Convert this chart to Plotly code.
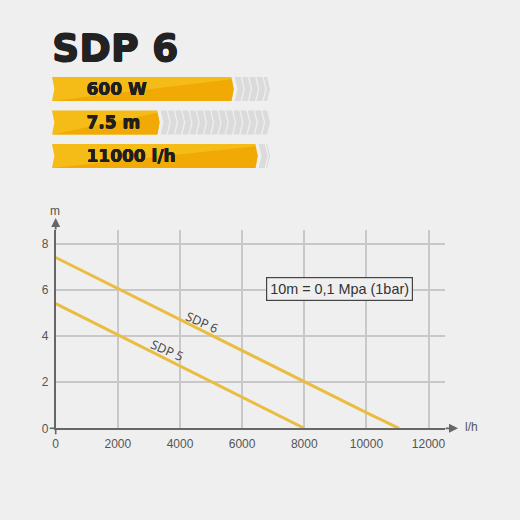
import plotly.graph_objects as go

# ---------- data ----------
title_text = "SDP 6"
spec_labels = ["600 W", "7.5 m", "11000 l/h"]
spec_filled = [25.0, 14.8, 28.3]
spec_capacity = 30

flow_sdp6 = [0, 2000, 4000, 6000, 8000, 10000, 11050]
head_sdp6 = [7.4, 6.05, 4.7, 3.35, 2.0, 0.68, 0]
flow_sdp5 = [0, 2000, 4000, 6000, 8000]
head_sdp5 = [5.4, 4.05, 2.7, 1.35, 0]
x_ticks = [0, 2000, 4000, 6000, 8000, 10000, 12000]
y_ticks = [0, 2, 4, 6, 8]

# ---------- style / layout ----------
W = H = 520
BG = "#efefef"
TXT = "#555555"
AXIS = "#666666"
X0, X1, Y0, Y1 = 55.7, 445.0, 428.3, 230.0
PX_X, PX_Y = 31.07 / 1000, 23.08
BAR_L, BAR_R, ROW_TOP, ROW_BOT = 52.0, 270.0, 72.25, 172.75
half = 0.36
notch = 0.33
tip = 0.3
chev_tip = 0.4
label_drop = 0.05
FONT_HEAVY = "DejaVu Sans"
FONT_AXIS = "Liberation Sans"


def thick(px, color):
    return ", ".join(f"{a}px {b}px 0 {color}" for a, b in ((px, 0), (-px, 0), (0, px), (0, -px)))


fig = go.Figure()

for row, end in enumerate(spec_filled):
    # base (light yellow)
    xs = [0, end - tip, end, end - tip, 0, notch, 0]
    ys = [row - half, row - half, row, row + half, row + half, row, row - half]
    fig.add_trace(go.Scatter(x=xs, y=ys, xaxis="x2", yaxis="y2", mode="lines", fill="toself",
                             fillcolor="#f5bc18", line=dict(width=0), hoverinfo="skip", showlegend=False))
    # darker lower wedge
    xs = [notch * 0.2, end - tip, end, end - tip, notch * 0.2]
    ys = [row + half, row - half + 0.07, row, row + half, row + half]
    fig.add_trace(go.Scatter(x=xs, y=ys, xaxis="x2", yaxis="y2", mode="lines", fill="toself",
                             fillcolor="#f0a905", line=dict(width=0), hoverinfo="skip", showlegend=False))
    # remaining grey chevrons
    cx, cy = [], []
    start = end + 0.14
    while start < spec_capacity - 0.4:
        w = min(0.82, spec_capacity - chev_tip - start)
        cx += [start, start + w, start + w + chev_tip, start + w, start, start + chev_tip, start, None]
        cy += [row - half, row - half, row, row + half, row + half, row, row - half, None]
        start += 1.0
    fig.add_trace(go.Scatter(x=cx, y=cy, xaxis="x2", yaxis="y2", mode="lines", fill="toself",
                             fillcolor="#dbdbdb", line=dict(width=0), hoverinfo="skip", showlegend=False))

# labels in the bars
fig.add_trace(go.Scatter(x=[4.75] * len(spec_labels),
                         y=[i + label_drop for i in range(len(spec_labels))],
                         xaxis="x2", yaxis="y2", mode="text", text=[f"<b>{s}</b>" for s in spec_labels],
                         textposition="middle right",
                         textfont=dict(family=FONT_HEAVY, size=17, color="#1f1f1f",
                                       shadow=thick(0.25, "#1f1f1f")),
                         hoverinfo="skip", showlegend=False))

# curves
for xs, ys in ((flow_sdp6, head_sdp6), (flow_sdp5, head_sdp5)):
    fig.add_trace(go.Scatter(x=xs, y=ys, mode="lines", line=dict(color="#e9bd40", width=3),
                             cliponaxis=False, hoverinfo="skip", showlegend=False))

grid = dict(showgrid=True, gridcolor="#c8c8c8", gridwidth=1.5, zeroline=False, showline=True,
            linecolor=AXIS, linewidth=1.6, tickcolor="rgba(0,0,0,0)", automargin=False,
            tickformat="d", tickfont=dict(family=FONT_AXIS, size=12, color=TXT))

fig.update_layout(
    template="none",
    width=W, height=H, autosize=False,
    margin=dict(l=0, r=0, t=0, b=0, pad=0),
    paper_bgcolor=BG, plot_bgcolor=BG,
    showlegend=False,
    xaxis=dict(domain=[X0 / W, X1 / W], range=[0, (X1 - X0) / PX_X], tickvals=x_ticks,
               ticks="outside", ticklen=3, tickwidth=1.2, anchor="y", **grid),
    yaxis=dict(domain=[1 - Y0 / H, 1 - Y1 / H], range=[0, (Y0 - Y1) / PX_Y], tickvals=y_ticks,
               ticks="outside", ticklen=3, tickwidth=1.2, anchor="x", **grid),
    xaxis2=dict(domain=[BAR_L / W, BAR_R / W], range=[0, spec_capacity], visible=False,
                anchor="y2", fixedrange=True, automargin=False),
    yaxis2=dict(domain=[1 - ROW_BOT / H, 1 - ROW_TOP / H], range=[2.5, -0.5], visible=False,
                anchor="x2", fixedrange=True, automargin=False),
    shapes=[
        # the two axes overshoot each other at the origin
        dict(type="line", xref="paper", yref="paper", x0=X0 / W, x1=X0 / W,
             y0=1 - Y0 / H, y1=1 - (Y0 + 6) / H, line=dict(color=AXIS, width=1.6)),
        dict(type="line", xref="paper", yref="paper", x0=X0 / W, x1=(X0 - 6) / W,
             y0=1 - Y0 / H, y1=1 - Y0 / H, line=dict(color=AXIS, width=1.6)),
    ],
    annotations=[
        dict(text=f"<b>{title_text}</b>", xref="paper", yref="paper", x=50 / W, y=1 - 47.5 / H,
             xanchor="left", yanchor="middle", showarrow=False,
             font=dict(family=FONT_HEAVY, size=38, color="#222222", shadow=thick(0.6, "#222222"))),
        # axis arrows
        dict(xref="paper", yref="paper", axref="pixel", ayref="pixel",
             x=458 / W, y=1 - Y0 / H, ax=-14, ay=0, text="", showarrow=True,
             arrowhead=2, arrowsize=1.0, arrowwidth=1.8, arrowcolor=AXIS),
        dict(xref="paper", yref="paper", axref="pixel", ayref="pixel",
             x=X0 / W, y=1 - 218 / H, ax=0, ay=13, text="", showarrow=True,
             arrowhead=2, arrowsize=1.0, arrowwidth=1.8, arrowcolor=AXIS),
        dict(text="m", xref="paper", yref="paper", x=55 / W, y=1 - 211 / H, showarrow=False,
             xanchor="center", yanchor="middle",
             font=dict(family=FONT_AXIS, size=12, color=TXT)),
        dict(text="l/h", xref="paper", yref="paper", x=471 / W, y=1 - 427 / H, showarrow=False,
             xanchor="center", yanchor="middle",
             font=dict(family=FONT_AXIS, size=12, color=TXT)),
        dict(text="10m = 0,1 Mpa (1bar)", x=9150, y=6.03, showarrow=False,
             xanchor="center", yanchor="middle",
             font=dict(family=FONT_AXIS, size=14.4, color="#333333"),
             bgcolor=BG, bordercolor="#444444", borderwidth=1.2, borderpad=3),
        dict(text="SDP 6", x=4710, y=4.575, showarrow=False, textangle=24,
             font=dict(family="Open Sans", size=12.5, color="#444444")),
        dict(text="SDP 5", x=3580, y=3.35, showarrow=False, textangle=24,
             font=dict(family="Open Sans", size=12.5, color="#444444")),
    ],
)

fig.write_html("out.html", config=dict(displayModeBar=False),
               post_script="document.body.style.margin='0';")
